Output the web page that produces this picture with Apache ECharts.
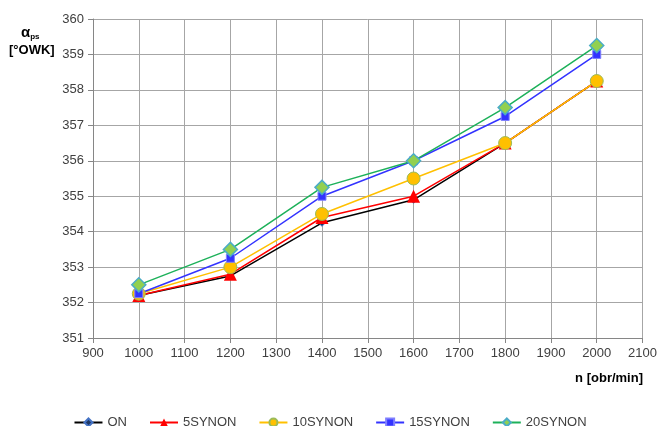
<!DOCTYPE html>
<html><head><meta charset="utf-8">
<script src="https://cdn.jsdelivr.net/npm/echarts@6/dist/echarts.min.js"></script>
<style>html,body{margin:0;padding:0;background:#fff}#c{width:660px;height:426px}</style>
</head><body><div id="c"></div>
<script>
var rpm = [1000, 1200, 1400, 1600, 1800, 2000];
var seriesNames = ['ON', '5SYNON', '10SYNON', '15SYNON', '20SYNON'];
var ON = [352.2, 352.75, 354.25, 354.9, 356.5, 358.25];
var S5 = [352.2, 352.8, 354.4, 355.0, 356.5, 358.25];
var S10 = [352.25, 353.0, 354.5, 355.5, 356.5, 358.25];
var S15 = [352.25, 353.25, 355.0, 356.0, 357.25, 359.0];
var S20 = [352.5, 353.5, 355.25, 356.0, 357.5, 359.25];

function pairs(v){ return rpm.map(function(x,i){ return [x, v[i]]; }); }
var font = 'Liberation Sans';
var styles = [
  {line:'#000000', sym:'diamond', size:7, fill:'#1F3864', border:'#4472C4', bw:1},
  {line:'#FF0000', sym:'triangle', size:13, fill:'#FF0000', border:'#FF0000', bw:0},
  {line:'#FFC000', sym:'circle', size:13, fill:'#FFC000', border:'#9BBB59', bw:1},
  {line:'#3333FF', sym:'rect', size:8, fill:'#3333FF', border:'#7F7FFF', bw:1},
  {line:'#1DB15A', sym:'diamond', size:14, fill:'#92D050', border:'#4BACC6', bw:1.5}
];
var data = [ON, S5, S10, S15, S20];
var series = seriesNames.map(function(n,i){
  var s = styles[i];
  return {
    name:n, type:'line', data:pairs(data[i]), symbol:s.sym, symbolSize:s.size,
    lineStyle:{color:s.line, width:1.5}, itemStyle:{color:s.fill, borderColor:s.border, borderWidth:s.bw},
    color:s.line, animation:false
  };
});
var chart = echarts.init(document.getElementById('c'));
chart.setOption({
  backgroundColor:'#fff',
  animation:false,
  grid:{left:93, right:17, top:19, bottom:88},
  xAxis:{type:'value', min:900, max:2100, interval:100,
    axisLine:{lineStyle:{color:'#868686'}}, axisTick:{show:true, length:5, lineStyle:{color:'#868686'}},
    axisLabel:{color:'#404040', fontFamily:font, fontSize:13, margin:9, formatter:function(v){return String(v);}},
    splitLine:{show:true, lineStyle:{color:'#A6A6A6', width:1}}},
  yAxis:{type:'value', min:351, max:360, interval:1,
    axisLine:{show:true, lineStyle:{color:'#868686'}}, axisTick:{show:true, length:5, lineStyle:{color:'#868686'}},
    axisLabel:{color:'#404040', fontFamily:font, fontSize:13, margin:9, formatter:function(v){return String(v);}},
    splitLine:{show:true, lineStyle:{color:'#A6A6A6', width:1}}},
  legend:{top:411, left:'center', itemWidth:28, itemHeight:10, itemGap:22,
    textStyle:{fontFamily:font, fontSize:13, color:'#404040'}, data:seriesNames},
  graphic:[
    {type:'text', left:21, top:25, style:{
      text:'{a|α}{s|ps}', rich:{a:{fontFamily:font, fontSize:15, fontWeight:'bold', fill:'#000'}, s:{fontFamily:font, fontSize:8, fontWeight:'bold', fill:'#000', padding:[8,0,0,0]}}}},
    {type:'text', left:9, top:44, style:{text:'[°OWK]', fontFamily:font, fontSize:13, fontWeight:'bold', fill:'#000'}},
    {type:'text', right:17, top:372, style:{text:'n [obr/min]', fontFamily:font, fontSize:13, fontWeight:'bold', fill:'#000'}}
  ],
  series:series
});
</script></body></html>
